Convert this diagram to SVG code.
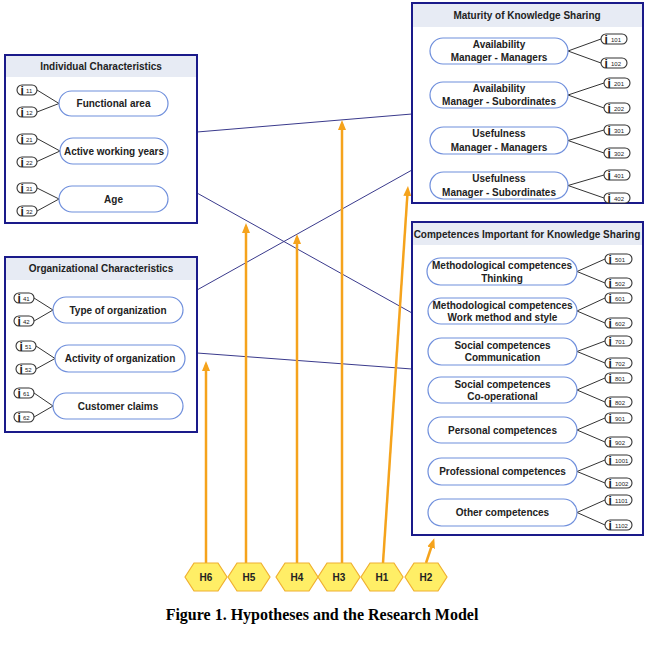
<svg xmlns="http://www.w3.org/2000/svg" width="655" height="645" viewBox="0 0 655 645">
<defs>
<style>
.box{fill:#fff;stroke:#1a1a8a;stroke-width:2}
.hdr{fill:#e7ebf4;stroke:none}
.title{font-family:"Liberation Sans",Arial,sans-serif;font-size:10px;font-weight:bold;fill:#222;text-anchor:middle}
.pill{fill:#fff;stroke:#6f8fdc;stroke-width:1.2}
.pt{font-family:"Liberation Sans",Arial,sans-serif;font-size:10px;font-weight:bold;fill:#222;text-anchor:middle}
.ind{fill:#fff;stroke:#333;stroke-width:1.1}
.ii{font-family:"Liberation Sans",Arial,sans-serif;font-size:12px;font-weight:bold;fill:#222}
.in{font-family:"Liberation Sans",Arial,sans-serif;font-size:6px;fill:#222}
.lk{stroke:#333;stroke-width:1;fill:none}
.con{stroke:#3a3a8c;stroke-width:1;fill:none}
.hyp{stroke:#f5a31c;stroke-width:2.5;fill:none;marker-end:url(#ah)}
.hex{fill:#ffee66;stroke:#f0b030;stroke-width:1.2}
.ht{font-family:"Liberation Sans",Arial,sans-serif;font-size:10px;font-weight:bold;fill:#222;text-anchor:middle}
.cap{font-family:"Liberation Serif","Times New Roman",serif;font-size:16px;font-weight:bold;fill:#000;text-anchor:middle}
</style>
<marker id="ah" markerWidth="10" markerHeight="10" refX="6" refY="4" orient="auto" markerUnits="userSpaceOnUse" viewBox="0 0 10 8">
<path d="M0,0 L10,4 L0,8 Z" fill="#f5a31c"/>
</marker>
</defs>

<!-- connectors between boxes -->
<g id="connectors">
<line class="con" x1="197" y1="132" x2="412" y2="114"/>
<line class="con" x1="197" y1="193" x2="412" y2="313"/>
<line class="con" x1="197" y1="290" x2="412" y2="170"/>
<line class="con" x1="197" y1="353" x2="412" y2="369"/>
<line class="hyp" x1="206" y1="563" x2="206" y2="365"/>
<line class="hyp" x1="246" y1="563" x2="246" y2="227"/>
<line class="hyp" x1="297" y1="563" x2="297" y2="238"/>
<line class="hyp" x1="342" y1="563" x2="342" y2="124"/>
<line class="hyp" x1="383" y1="563" x2="407.7" y2="190"/>
<line class="hyp" x1="426" y1="563" x2="433" y2="542"/>
</g>

<!-- Individual Characteristics -->
<g id="individual">
<rect class="box" x="5" y="55" width="192" height="168"/>
<rect class="hdr" x="6" y="56" width="190" height="21"/>
<text class="title" x="101" y="70">Individual Characteristics</text>
<g id="functional-area">
<path class="lk" d="M37,90 L59,103.5 L37,112"/>
<rect class="pill" x="59" y="91" width="109" height="25" rx="12.5"/>
<text class="pt" x="113.5" y="107">Functional area</text>
<rect class="ind" x="17" y="85" width="20" height="10" rx="5"/><text class="ii" x="20.5" y="94.5">i</text><text class="in" x="26" y="92.5">11</text>
<rect class="ind" x="17" y="107" width="20" height="10" rx="5"/><text class="ii" x="20.5" y="116.5">i</text><text class="in" x="26" y="114.5">12</text>
</g>
<g id="active-working-years">
<path class="lk" d="M37,138.5 L60,151 L37,161.5"/>
<rect class="pill" x="60" y="138" width="108" height="26" rx="13"/>
<text class="pt" x="114" y="154.5">Active working years</text>
<rect class="ind" x="17" y="134" width="20" height="10" rx="5"/><text class="ii" x="20.5" y="143.5">i</text><text class="in" x="26" y="141.5">21</text>
<rect class="ind" x="17" y="157" width="20" height="10" rx="5"/><text class="ii" x="20.5" y="166.5">i</text><text class="in" x="26" y="164.5">22</text>
</g>
<g id="age">
<path class="lk" d="M37,188 L59,199 L37,211"/>
<rect class="pill" x="59" y="186" width="109" height="26" rx="13"/>
<text class="pt" x="113.5" y="202.5">Age</text>
<rect class="ind" x="17" y="183" width="20" height="10" rx="5"/><text class="ii" x="20.5" y="192.5">i</text><text class="in" x="26" y="190.5">31</text>
<rect class="ind" x="17" y="206" width="20" height="10" rx="5"/><text class="ii" x="20.5" y="215.5">i</text><text class="in" x="26" y="213.5">32</text>
</g>
</g>

<!-- Organizational Characteristics -->
<g id="organizational">
<rect class="box" x="5" y="257" width="192" height="175"/>
<rect class="hdr" x="6" y="258" width="190" height="22"/>
<text class="title" x="101" y="272">Organizational Characteristics</text>
<g id="type-of-organization">
<path class="lk" d="M34,298 L53,310 L34,321"/>
<rect class="pill" x="53" y="297" width="130" height="26" rx="13"/>
<text class="pt" x="118" y="313.5">Type of organization</text>
<rect class="ind" x="14" y="293" width="20" height="10" rx="5"/><text class="ii" x="17.5" y="302.5">i</text><text class="in" x="23" y="300.5">41</text>
<rect class="ind" x="14" y="316" width="20" height="10" rx="5"/><text class="ii" x="17.5" y="325.5">i</text><text class="in" x="23" y="323.5">42</text>
</g>
<g id="activity-of-organization">
<path class="lk" d="M36,346 L55,358.5 L36,369"/>
<rect class="pill" x="55" y="345" width="130" height="27" rx="13.5"/>
<text class="pt" x="120" y="362">Activity of organization</text>
<rect class="ind" x="16" y="341" width="20" height="10" rx="5"/><text class="ii" x="19.5" y="350.5">i</text><text class="in" x="25" y="348.5">51</text>
<rect class="ind" x="16" y="364" width="20" height="10" rx="5"/><text class="ii" x="19.5" y="373.5">i</text><text class="in" x="25" y="371.5">52</text>
</g>
<g id="customer-claims">
<path class="lk" d="M34,393 L53,406 L34,417"/>
<rect class="pill" x="53" y="393" width="130" height="26" rx="13"/>
<text class="pt" x="118" y="409.5">Customer claims</text>
<rect class="ind" x="14" y="388" width="20" height="10" rx="5"/><text class="ii" x="17.5" y="397.5">i</text><text class="in" x="23" y="395.5">61</text>
<rect class="ind" x="14" y="412" width="20" height="10" rx="5"/><text class="ii" x="17.5" y="421.5">i</text><text class="in" x="23" y="419.5">62</text>
</g>
</g>

<!-- Maturity of Knowledge Sharing -->
<g id="maturity">
<rect class="box" x="412" y="3" width="231" height="200"/>
<rect class="hdr" x="413" y="4" width="229" height="23"/>
<text class="title" x="527" y="19">Maturity of Knowledge Sharing</text>
<g id="avail-mm">
<path class="lk" d="M601,39 L568,51 L601,63"/>
<rect class="pill" x="430" y="38" width="138" height="26" rx="13"/>
<text class="pt" x="499" y="47.5">Availability</text><text class="pt" x="499" y="61">Manager - Managers</text>
<rect class="ind" x="601" y="34" width="26" height="10" rx="5"/><text class="ii" x="604.5" y="43.5">i</text><text class="in" x="611" y="41.5">101</text>
<rect class="ind" x="601" y="58" width="26" height="10" rx="5"/><text class="ii" x="604.5" y="67.5">i</text><text class="in" x="611" y="65.5">102</text>
</g>
<g id="avail-ms">
<path class="lk" d="M604,83 L568,95 L604,108"/>
<rect class="pill" x="430" y="82" width="138" height="26" rx="13"/>
<text class="pt" x="499" y="91.5">Availability</text><text class="pt" x="499" y="105">Manager - Subordinates</text>
<rect class="ind" x="604" y="78" width="26" height="10" rx="5"/><text class="ii" x="607.5" y="87.5">i</text><text class="in" x="614" y="85.5">201</text>
<rect class="ind" x="604" y="103" width="26" height="10" rx="5"/><text class="ii" x="607.5" y="112.5">i</text><text class="in" x="614" y="110.5">202</text>
</g>
<g id="useful-mm">
<path class="lk" d="M604,130 L568,140.5 L604,153"/>
<rect class="pill" x="430" y="127" width="138" height="27" rx="13.5"/>
<text class="pt" x="499" y="137">Usefulness</text><text class="pt" x="499" y="150.5">Manager - Managers</text>
<rect class="ind" x="604" y="125" width="26" height="10" rx="5"/><text class="ii" x="607.5" y="134.5">i</text><text class="in" x="614" y="132.5">301</text>
<rect class="ind" x="604" y="148" width="26" height="10" rx="5"/><text class="ii" x="607.5" y="157.5">i</text><text class="in" x="614" y="155.5">302</text>
</g>
<g id="useful-ms">
<path class="lk" d="M604,175 L568,185.5 L604,198"/>
<rect class="pill" x="430" y="172" width="138" height="27" rx="13.5"/>
<text class="pt" x="499" y="182">Usefulness</text><text class="pt" x="499" y="195.5">Manager - Subordinates</text>
<rect class="ind" x="604" y="170" width="26" height="10" rx="5"/><text class="ii" x="607.5" y="179.5">i</text><text class="in" x="614" y="177.5">401</text>
<rect class="ind" x="604" y="193" width="26" height="10" rx="5"/><text class="ii" x="607.5" y="202.5">i</text><text class="in" x="614" y="200.5">402</text>
</g>
</g>

<!-- Competences Important for Knowledge Sharing -->
<g id="competences">
<rect class="box" x="412" y="222" width="231" height="313"/>
<rect class="hdr" x="413" y="223" width="229" height="22"/>
<text class="title" x="527" y="237.5">Competences Important for Knowledge Sharing</text>
<g id="meth-thinking">
<path class="lk" d="M605,259 L577,271.5 L605,283"/>
<rect class="pill" x="427" y="258" width="150" height="27" rx="13.5"/>
<text class="pt" x="502" y="269">Methodological competences</text><text class="pt" x="502" y="281.5">Thinking</text>
<rect class="ind" x="605" y="254" width="27" height="10" rx="5"/><text class="ii" x="608.5" y="263.5">i</text><text class="in" x="615" y="261.5">501</text>
<rect class="ind" x="605" y="278" width="27" height="10" rx="5"/><text class="ii" x="608.5" y="287.5">i</text><text class="in" x="615" y="285.5">502</text>
</g>
<g id="meth-work">
<path class="lk" d="M605,298 L577,311 L605,323"/>
<rect class="pill" x="428" y="298" width="149" height="26" rx="13"/>
<text class="pt" x="502.5" y="308.5">Methodological competences</text><text class="pt" x="502.5" y="321">Work method and style</text>
<rect class="ind" x="605" y="293" width="27" height="10" rx="5"/><text class="ii" x="608.5" y="302.5">i</text><text class="in" x="615" y="300.5">601</text>
<rect class="ind" x="605" y="318" width="27" height="10" rx="5"/><text class="ii" x="608.5" y="327.5">i</text><text class="in" x="615" y="325.5">602</text>
</g>
<g id="social-comm">
<path class="lk" d="M605,341 L577,351.5 L605,363"/>
<rect class="pill" x="428" y="338" width="149" height="27" rx="13.5"/>
<text class="pt" x="502.5" y="348.5">Social competences</text><text class="pt" x="502.5" y="361">Communication</text>
<rect class="ind" x="605" y="336" width="27" height="10" rx="5"/><text class="ii" x="608.5" y="345.5">i</text><text class="in" x="615" y="343.5">701</text>
<rect class="ind" x="605" y="358" width="27" height="10" rx="5"/><text class="ii" x="608.5" y="367.5">i</text><text class="in" x="615" y="365.5">702</text>
</g>
<g id="social-coop">
<path class="lk" d="M605,378 L577,390 L605,402"/>
<rect class="pill" x="428" y="377" width="149" height="26" rx="13"/>
<text class="pt" x="502.5" y="387.5">Social competences</text><text class="pt" x="502.5" y="400">Co-operational</text>
<rect class="ind" x="605" y="373" width="27" height="10" rx="5"/><text class="ii" x="608.5" y="382.5">i</text><text class="in" x="615" y="380.5">801</text>
<rect class="ind" x="605" y="397" width="27" height="10" rx="5"/><text class="ii" x="608.5" y="406.5">i</text><text class="in" x="615" y="404.5">802</text>
</g>
<g id="personal">
<path class="lk" d="M605,418 L577,430 L605,442"/>
<rect class="pill" x="428" y="417" width="149" height="26" rx="13"/>
<text class="pt" x="502.5" y="433.5">Personal competences</text>
<rect class="ind" x="605" y="413" width="27" height="10" rx="5"/><text class="ii" x="608.5" y="422.5">i</text><text class="in" x="615" y="420.5">901</text>
<rect class="ind" x="605" y="437" width="27" height="10" rx="5"/><text class="ii" x="608.5" y="446.5">i</text><text class="in" x="615" y="444.5">902</text>
</g>
<g id="professional">
<path class="lk" d="M605,460 L577,471.5 L605,483"/>
<rect class="pill" x="428" y="458" width="149" height="27" rx="13.5"/>
<text class="pt" x="502.5" y="475">Professional competences</text>
<rect class="ind" x="605" y="455" width="27" height="10" rx="5"/><text class="ii" x="608.5" y="464.5">i</text><text class="in" x="615" y="462.5">1001</text>
<rect class="ind" x="605" y="478" width="27" height="10" rx="5"/><text class="ii" x="608.5" y="487.5">i</text><text class="in" x="615" y="485.5">1002</text>
</g>
<g id="other">
<path class="lk" d="M605,500 L577,512.5 L605,525"/>
<rect class="pill" x="428" y="499" width="149" height="27" rx="13.5"/>
<text class="pt" x="502.5" y="516">Other competences</text>
<rect class="ind" x="605" y="495" width="27" height="10" rx="5"/><text class="ii" x="608.5" y="504.5">i</text><text class="in" x="615" y="502.5">1101</text>
<rect class="ind" x="605" y="520" width="27" height="10" rx="5"/><text class="ii" x="608.5" y="529.5">i</text><text class="in" x="615" y="527.5">1102</text>
</g>
</g>

<!-- Hypotheses -->
<g id="H6"><polygon class="hex" points="185,577 194,563 218,563 227,577 218,591 194,591"/><text class="ht" x="206" y="581">H6</text></g>
<g id="H5"><polygon class="hex" points="228,577 237,563 261,563 270,577 261,591 237,591"/><text class="ht" x="249" y="581">H5</text></g>
<g id="H4"><polygon class="hex" points="276,577 285,563 309,563 318,577 309,591 285,591"/><text class="ht" x="297" y="581">H4</text></g>
<g id="H3"><polygon class="hex" points="318,577 327,563 351,563 360,577 351,591 327,591"/><text class="ht" x="339" y="581">H3</text></g>
<g id="H1"><polygon class="hex" points="361,577 370,563 394,563 403,577 394,591 370,591"/><text class="ht" x="382" y="581">H1</text></g>
<g id="H2"><polygon class="hex" points="405,577 414,563 438,563 447,577 438,591 414,591"/><text class="ht" x="426" y="581">H2</text></g>

<text class="cap" x="322" y="620">Figure 1. Hypotheses and the Research Model</text>
</svg>
